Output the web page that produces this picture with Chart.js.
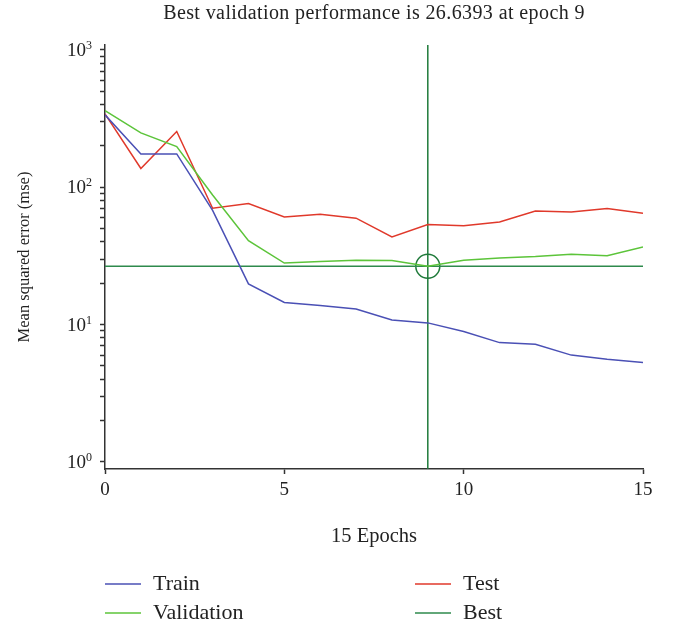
<!DOCTYPE html>
<html>
<head>
<meta charset="utf-8">
<script src="https://cdn.jsdelivr.net/npm/chart.js@4.4.1/dist/chart.umd.min.js"></script>
<style>
  html, body { margin: 0; padding: 0; background: #fff; }
  #wrap { width: 679px; height: 623px; }
</style>
</head>
<body>
<div id="wrap"><canvas id="perf"></canvas></div>
<script>
const epochs = [0, 1, 2, 3, 4, 5, 6, 7, 8, 9, 10, 11, 12, 13, 14, 15];
const train = [337, 175, 175, 68, 19.8, 14.5, 13.8, 13.0, 10.8, 10.3, 8.9, 7.4, 7.2, 6.0, 5.6, 5.3];
const validation = [362, 249, 198, 88, 40.9, 28.1, 28.8, 29.4, 29.3, 26.6393, 29.4, 30.6, 31.3, 32.6, 31.8, 36.8];
const test = [342, 137, 255, 70.4, 76.1, 60.9, 63.7, 59.6, 43.5, 53.5, 52.6, 56.0, 67.3, 66.2, 70.0, 64.8];
const bestEpoch = 9;
const bestValue = 26.6393;
const xTicks = [0, 5, 10, 15];
const yMajor = [1, 10, 100, 1000];
const yMin = 0.889, yMax = 1087;

const serif = '"Liberation Serif", "Times New Roman", serif';
const black = '#333';

function pts(arr) { return arr.map((v, i) => ({ x: epochs[i], y: v })); }

// minor ticks 2..9 in every decade
const yTicks = [];
yMajor.forEach((m, i) => {
  yTicks.push(m);
  if (i < yMajor.length - 1) for (let k = 2; k <= 9; k++) yTicks.push(m * k);
});

// title, exponent tick labels and legend drawn on the canvas
const extras = {
  id: 'extras',
  afterDraw(chart) {
    const ctx = chart.ctx, area = chart.chartArea, ys = chart.scales.y;
    ctx.save();
    ctx.fillStyle = '#222';
    ctx.font = '20px ' + serif;
    ctx.letterSpacing = '0.4px';
    ctx.textAlign = 'center';
    ctx.textBaseline = 'middle';
    ctx.fillText('Best validation performance is ' + bestValue + ' at epoch ' + bestEpoch,
      (area.left + area.right) / 2, 14);
    ctx.letterSpacing = '0px';

    // y labels 10^n
    yMajor.forEach(v => {
      const y = ys.getPixelForValue(v);
      const exp = String(Math.round(Math.log10(v)));
      ctx.font = '12px ' + serif;
      ctx.textAlign = 'right';
      ctx.textBaseline = 'middle';
      const ew = ctx.measureText(exp).width;
      ctx.fillText(exp, 92, y - 4);
      ctx.font = '19px ' + serif;
      ctx.fillText('10', 92 - ew, y + 1);
    });

    // legend, two columns: Train/Validation left, Test/Best right
    const cols = [105, 415], rows = [584, 613];
    const slot = { Train: [0, 0], Validation: [0, 1], Test: [1, 0], Best: [1, 1] };
    chart.data.datasets.filter(d => slot[d.label]).forEach(d => {
      const lx = cols[slot[d.label][0]], ly = rows[slot[d.label][1]];
      ctx.strokeStyle = d.borderColor;
      ctx.lineWidth = 1.5;
      ctx.beginPath();
      ctx.moveTo(lx, ly);
      ctx.lineTo(lx + 36, ly);
      ctx.stroke();
      ctx.fillStyle = '#222';
      ctx.font = '22px ' + serif;
      ctx.textAlign = 'left';
      ctx.textBaseline = 'middle';
      ctx.fillText(d.label, lx + 48, ly);
    });
    ctx.restore();
  }
};

new Chart(document.getElementById('perf'), {
  type: 'line',
  data: {
    datasets: [
      { label: 'Train', data: pts(train), borderColor: '#4a50b5' },
      { label: 'Validation', data: pts(validation), borderColor: '#5cc43a' },
      { label: 'Test', data: pts(test), borderColor: '#e0392b' },
      { label: 'Best', data: [{ x: 0, y: bestValue }, { x: 15, y: bestValue }], borderColor: '#2e8a4c' },
      { label: 'bestV', data: [{ x: bestEpoch, y: yMin }, { x: bestEpoch, y: yMax }], borderColor: '#1f7a3a' },
      { label: 'bestPt', data: [{ x: bestEpoch, y: bestValue }], showLine: false, borderColor: '#1f7a3a',
        pointRadius: 12, pointBorderWidth: 1.5, pointBackgroundColor: 'rgba(0,0,0,0)' }
    ]
  },
  options: {
    responsive: true,
    maintainAspectRatio: false,
    animation: false,
    elements: {
      line: { borderWidth: 1.5, tension: 0 },
      point: { radius: 0, hoverRadius: 0 }
    },
    layout: { padding: { top: 45, right: 36, bottom: 63, left: 0 } },
    plugins: { legend: { display: false }, title: { display: false }, tooltip: { enabled: false } },
    scales: {
      x: {
        type: 'linear',
        min: 0, max: 15,
        afterBuildTicks: s => { s.ticks = xTicks.map(v => ({ value: v })); },
        afterFit: s => { s.height = 91; },
        border: { color: black, width: 1.5 },
        grid: { drawOnChartArea: false, tickLength: 5, tickColor: black, tickWidth: 1.5 },
        ticks: { color: '#222', font: { family: serif, size: 19 }, padding: 5, maxRotation: 0, autoSkip: false },
        title: { display: true, text: '15 Epochs', color: '#222', font: { family: serif, size: 20.5 }, padding: { top: 0, bottom: 11 } }
      },
      y: {
        type: 'logarithmic',
        min: yMin, max: yMax,
        afterBuildTicks: s => { s.ticks = yTicks.map(v => ({ value: v })); },
        afterFit: s => { s.width = 105; },
        border: { color: black, width: 1.5 },
        grid: { drawOnChartArea: false, tickLength: 5, tickColor: black, tickWidth: 1.5 },
        ticks: { callback: () => '', padding: 8, autoSkip: false },
        title: { display: true, text: 'Mean squared error (mse)', color: '#222', font: { family: serif, size: 16.5 }, padding: { top: 15, bottom: 0 } }
      }
    }
  },
  plugins: [extras]
});
</script>
</body>
</html>
